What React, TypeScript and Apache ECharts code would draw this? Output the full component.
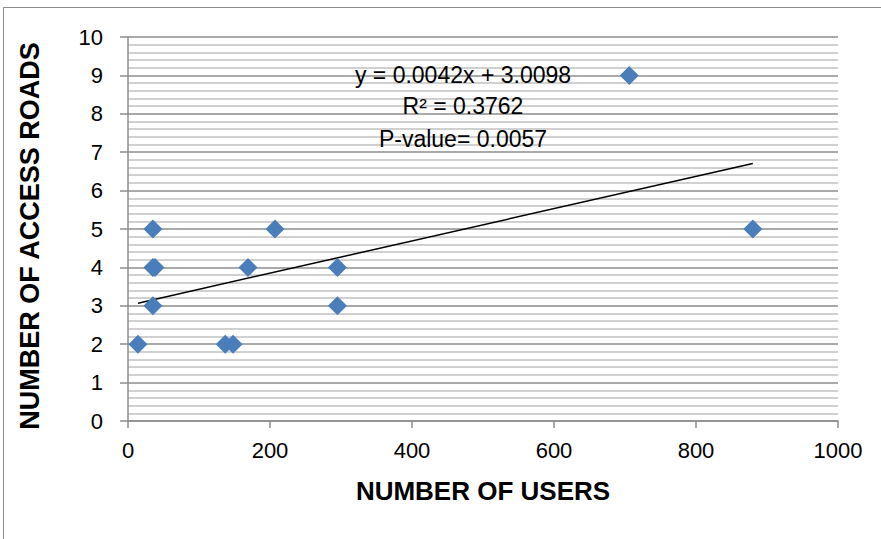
import React, { useEffect, useRef } from "react";
import * as echarts from "echarts";

const users = [14, 35, 35, 38, 35, 137, 148, 169, 207, 295, 295, 706, 880];
const roads = [2, 5, 4, 4, 3, 2, 2, 4, 5, 4, 3, 9, 5];
const trendSlope = 0.0042;
const trendIntercept = 3.0098;
const annotationLines = ["y = 0.0042x + 3.0098", "R² = 0.3762", "P-value= 0.0057"];
const xTitle = "NUMBER OF USERS";
const yTitle = "NUMBER OF ACCESS ROADS";

export default function App() {
  const ref = useRef<HTMLDivElement>(null);
  useEffect(() => {
    if (!ref.current) return;
    const chart = echarts.init(ref.current, undefined, { renderer: "svg" });
    const points = users.map((u, i) => [u, roads[i]]);
    const xMin = Math.min(...users);
    const xMax = Math.max(...users);
    const trend = [
      [xMin, trendSlope * xMin + trendIntercept],
      [xMax, trendSlope * xMax + trendIntercept],
    ];
    const labelFont = "'Liberation Sans', Arial, sans-serif";
    chart.setOption({
      animation: false,
      backgroundColor: "#ffffff",
      grid: { left: 128, top: 37, right: 43, bottom: 118, containLabel: false },
      xAxis: {
        type: "value",
        min: 0,
        max: 1000,
        interval: 200,
        name: xTitle,
        nameLocation: "middle",
        nameGap: 57,
        nameTextStyle: { fontFamily: labelFont, fontWeight: "bold", fontSize: 26, color: "#000" },
        axisLine: { show: true, onZero: false, lineStyle: { color: "#8c8c8c", width: 1.5 } },
        axisTick: { show: true, inside: false, length: 7, lineStyle: { color: "#8c8c8c", width: 1.5 } },
        axisLabel: {
          margin: 18,
          fontFamily: labelFont,
          fontSize: 22,
          color: "#000",
          formatter: (v: number) => String(v),
        },
        splitLine: { show: false },
      },
      yAxis: {
        type: "value",
        min: 0,
        max: 10,
        interval: 1,
        axisLine: { show: true, lineStyle: { color: "#8c8c8c", width: 1.5 } },
        axisTick: { show: true, inside: false, length: 8, lineStyle: { color: "#8c8c8c", width: 1.5 } },
        axisLabel: {
          margin: 25,
          fontFamily: labelFont,
          fontSize: 22,
          color: "#000",
          formatter: (v: number) => String(v),
        },
        splitLine: { show: true, lineStyle: { color: "#8c8c8c", width: 1.5 } },
        minorTick: { show: false, splitNumber: 5 },
        minorSplitLine: { show: true, lineStyle: { color: "#c0c0c0", width: 1.5 } },
      },
      series: [
        {
          type: "line",
          data: trend,
          showSymbol: false,
          symbol: "none",
          lineStyle: { color: "#000", width: 1.5 },
          z: 3,
        },
        {
          type: "scatter",
          data: points,
          symbol: "diamond",
          symbolSize: 19,
          itemStyle: { color: "#4a7ebb", opacity: 1 },
          z: 4,
        },
      ],
      graphic: [
        {
          type: "rect",
          shape: { x: 3.5, y: 7.5, width: 1000, height: 1000 },
          style: { fill: "none", stroke: "#8c8c8c", lineWidth: 1 },
          silent: true,
        },
        {
          type: "text",
          x: 30,
          y: 236,
          rotation: Math.PI / 2,
          style: {
            text: yTitle,
            fontFamily: labelFont,
            fontWeight: "bold",
            fontSize: 27,
            fill: "#000",
            align: "center",
            verticalAlign: "middle",
          },
        },
        ...annotationLines.map((t, i) => ({
          type: "text",
          x: 463,
          y: [74.5, 105.5, 138.5][i],
          style: {
            text: t,
            fontFamily: labelFont,
            fontSize: 23,
            fill: "#000",
            align: "center",
            verticalAlign: "middle",
          },
          z: 10,
        })),
      ],
    });
    return () => chart.dispose();
  }, []);
  return <div ref={ref} style={{ position: "absolute", left: 0, top: 0, width: 881, height: 539 }} />;
}
